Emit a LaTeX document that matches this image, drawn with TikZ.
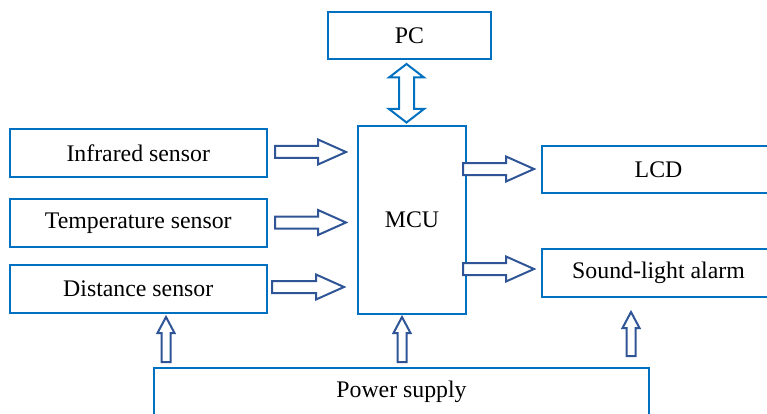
\documentclass[tikz,border=0pt]{standalone}
\usepackage{fontspec}
\setmainfont{Liberation Serif}
\usetikzlibrary{calc}
\definecolor{boxblue}{HTML}{0070C0}
\definecolor{arrowblue}{HTML}{2F5597}
\tikzset{
  blockbox/.style={draw=boxblue, line width=2pt, fill=white, rectangle, inner sep=0pt,
    font=\fontsize{23.8}{28}\selectfont, text=black},
  blockarrow/.style={draw=arrowblue, line width=2pt, fill=white, line join=miter},
  duplexarrow/.style={draw=boxblue, line width=2pt, fill=white, line join=miter},
}
% right-pointing block arrow from #1 to #2 (same height)
\newcommand\rblock[2]{%
  \draw[blockarrow] let \p1=(#1), \p2=(#2) in
    (\x1,\y1+6pt) -- (\x2-28pt,\y1+6pt) -- (\x2-28pt,\y1+12.5pt) -- (\x2,\y2)
    -- (\x2-28pt,\y1-12.5pt) -- (\x2-28pt,\y1-6pt) -- (\x1,\y1-6pt) -- cycle;}
% up-pointing block arrow from #1 (bottom) to #2 (tip)
\newcommand\ublock[2]{%
  \draw[blockarrow] let \p1=(#1), \p2=(#2) in
    (\x1-4.5pt,\y1) -- (\x1-4.5pt,\y2-16pt) -- (\x1-8.5pt,\y2-16pt) -- (\x2,\y2)
    -- (\x1+8.5pt,\y2-16pt) -- (\x1+4.5pt,\y2-16pt) -- (\x1+4.5pt,\y1) -- cycle;}
\begin{document}
\begin{tikzpicture}[x=1pt,y=-1pt]
\useasboundingbox (0,0) rectangle (767,414);
\clip (0,0) rectangle (767,414);
% boxes
\node[blockbox, minimum width=163pt, minimum height=47pt] (pc) at (409.5,35.5) {PC};
\node[blockbox, minimum width=108pt, minimum height=188pt] (mcu) at (412,220) {MCU};
\node[blockbox, minimum width=256.5pt, minimum height=48pt] (ir) at (138.25,153) {Infrared sensor};
\node[blockbox, minimum width=256.5pt, minimum height=48pt] (temp) at (138.25,223) {Temperature sensor};
\node[blockbox, minimum width=256.5pt, minimum height=48pt] (dist) at (138.25,289) {Distance sensor};
\node[blockbox, minimum width=233pt, minimum height=47pt] (lcd) at (658.5,169.5) {LCD};
\node[blockbox, minimum width=233pt, minimum height=48pt] (alarm) at (658.5,272.5) {Sound-light alarm};
\node[blockbox, minimum width=495pt, minimum height=48pt] (power) at (401.5,392) {Power supply};
% arrow end points
\coordinate (irA) at (275,152);   \coordinate (irB) at (346,152);
\coordinate (tpA) at (275,222.5); \coordinate (tpB) at (346,222.5);
\coordinate (dsA) at (272,287);   \coordinate (dsB) at (344,287);
\coordinate (lcA) at (463,169);   \coordinate (lcB) at (534,169);
\coordinate (alA) at (463,269);   \coordinate (alB) at (534,269);
\coordinate (p1A) at (166,362);   \coordinate (p1B) at (166,317);
\coordinate (p2A) at (402,362);   \coordinate (p2B) at (402,317);
\coordinate (p3A) at (631,356);   \coordinate (p3B) at (631,312);
% sensors -> MCU
\rblock{irA}{irB}
\rblock{tpA}{tpB}
\rblock{dsA}{dsB}
% MCU -> outputs
\rblock{lcA}{lcB}
\rblock{alA}{alB}
% power supply
\ublock{p1A}{p1B}
\ublock{p2A}{p2B}
\ublock{p3A}{p3B}
% PC <-> MCU
\draw[duplexarrow] (406.5,64) -- (424,77.5) -- (414,77.5) -- (414,109) -- (424,109)
  -- (406.5,122.5) -- (389,109) -- (399,109) -- (399,77.5) -- (389,77.5) -- cycle;
\end{tikzpicture}
\end{document}
